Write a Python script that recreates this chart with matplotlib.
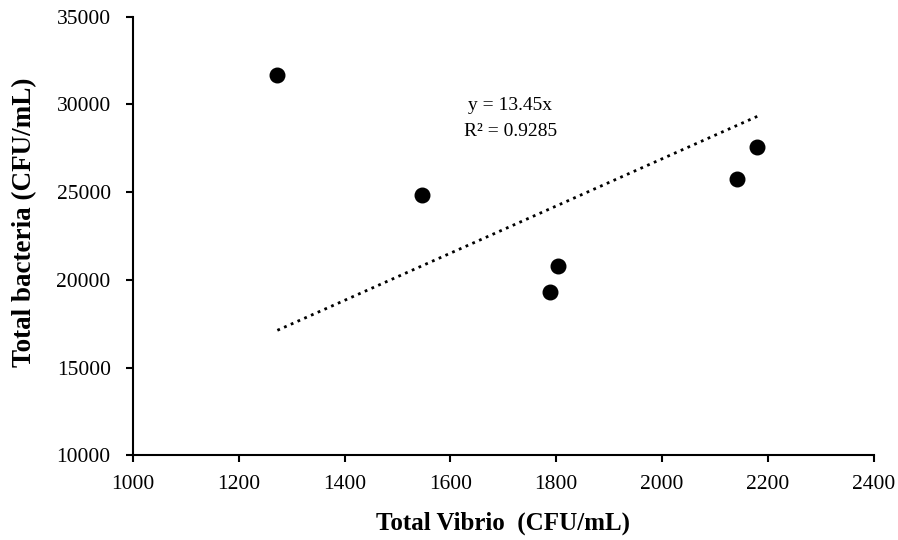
import numpy as np
import matplotlib
matplotlib.use('Agg')
import matplotlib.pyplot as plt

# Datos
vibrio = [1273, 1546, 1788, 1804, 2141, 2180]
bacteria = [31700, 24820, 19290, 20770, 25750, 27600]
slope = 13.45
r2 = 0.9285

x_ticks = [1000, 1200, 1400, 1600, 1800, 2000, 2200, 2400]
y_ticks = [10000, 15000, 20000, 25000, 30000, 35000]

plt.rcParams['font.family'] = ['Liberation Serif', 'DejaVu Serif']

fig = plt.figure(figsize=(8.98, 5.4), dpi=100)
ax = fig.add_axes([0.148, 0.157, 0.825, 0.812])

ax.scatter(vibrio, bacteria, s=110, color='black', zorder=3)

# Linea de tendencia (interseccion en cero)
xt = np.array([min(vibrio), max(vibrio)])
ax.plot(xt, slope * xt, linestyle=':', color='black', linewidth=2)

ax.text(1713, 29950, 'y = %.2fx' % slope, ha='center', va='center', fontsize=14)
ax.text(1713, 28480, 'R² = %.4f' % r2, ha='center', va='center', fontsize=14)

ax.set_xlim(1000, 2400)
ax.set_ylim(10000, 35000)
ax.set_xticks(x_ticks)
ax.set_yticks(y_ticks)
ax.tick_params(direction='out', length=5, width=1.5, labelsize=15.5)
ax.tick_params(axis='x', pad=9)
ax.tick_params(axis='y', pad=11)

for s in ['top', 'right']:
    ax.spines[s].set_visible(False)
for s in ['left', 'bottom']:
    ax.spines[s].set_linewidth(1.5)

ax.set_xlabel('Total Vibrio  (CFU/mL)', fontsize=18, fontweight='bold', labelpad=13)
ax.set_ylabel('Total bacteria (CFU/mL)', fontsize=19.5, fontweight='bold')
ax.yaxis.set_label_coords(-0.129, 0.532)

fig.savefig('out.png', dpi=100)
